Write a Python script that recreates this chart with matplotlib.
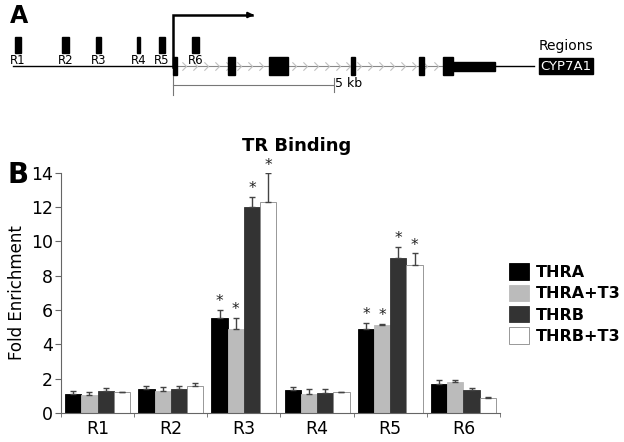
import numpy as np
import matplotlib.pyplot as plt
from matplotlib.path import Path
from matplotlib.patches import Rectangle, Patch

# Painel B: dados de enriquecimento
regions = ["R1", "R2", "R3", "R4", "R5", "R6"]
series = ["THRA", "THRA+T3", "THRB", "THRB+T3"]
thra = [1.12, 1.40, 5.56, 1.36, 4.88, 1.69]
thra_t3 = [1.07, 1.30, 4.88, 1.10, 5.14, 1.80]
thrb = [1.26, 1.40, 12.0, 1.16, 9.05, 1.32]
thrb_t3 = [1.20, 1.59, 12.3, 1.22, 8.60, 0.89]
thra_err = [0.14, 0.19, 0.44, 0.14, 0.35, 0.23]
thra_t3_err = [0.13, 0.19, 0.68, 0.31, 0.03, 0.10]
thrb_err = [0.19, 0.15, 0.60, 0.25, 0.64, 0.15]
thrb_t3_err = [0.02, 0.15, 1.66, 0.02, 0.70, 0.04]
signif = [False, False, True, False, True, False]

# Painel A: posições no gene (kb relativos ao TSS)
region_pos = [-4.81, -3.34, -2.31, -1.07, -0.34, 0.70]
region_w = [0.19, 0.22, 0.16, 0.10, 0.19, 0.22]
exon_start = [0.0, 1.71, 2.98, 5.53, 7.64, 8.39]
exon_end = [0.12, 1.93, 3.57, 5.65, 7.80, 8.70]
utr_start, utr_end = 8.70, 10.0
gene_line = (-4.97, 11.2)

colors = ["#000000", "#bbbbbb", "#333333", "#ffffff"]
values = [thra, thra_t3, thrb, thrb_t3]
errors = [thra_err, thra_t3_err, thrb_err, thrb_t3_err]

fig = plt.figure(figsize=(6.24, 4.42), dpi=100)

# ---------------- Painel A ----------------
axA = fig.add_axes([0, 1 - 120 / 442, 1, 120 / 442])
px = 32.2  # pixels por kb
axA.set_xlim(-173 / px, (624 - 173) / px)
axA.set_ylim(120, 0)
axA.axis("off")

yl = 66
axA.plot([gene_line[0], 0], [yl, yl], color="black", lw=1.0)
axA.plot([0, exon_start[-1]], [yl, yl], color="#888888", lw=0.8)
axA.plot([utr_end, gene_line[1]], [yl, yl], color="black", lw=1.0)

chev = Path([(-0.5, 1), (0.5, 0), (-0.5, -1)], [Path.MOVETO, Path.LINETO, Path.LINETO])
xs = np.arange(0.35, exon_start[-1], 0.34)
axA.plot(xs, [yl] * len(xs), linestyle="none", marker=chev, markersize=6,
         markerfacecolor="none", markeredgecolor="#c0c0c0", markeredgewidth=0.8)

for s, e in zip(exon_start, exon_end):
    axA.add_patch(Rectangle((s, 57), e - s, 18, color="black", zorder=3))
axA.add_patch(Rectangle((utr_start, 62), utr_end - utr_start, 9, color="black", zorder=3))

for name, pos, w in zip(regions, region_pos, region_w):
    axA.add_patch(Rectangle((pos - w / 2, 37), w, 16, color="black"))
    axA.text(pos, 61, name, ha="center", va="center", fontsize=8.5)

# seta do promotor
axA.plot([0, 0, 2.45], [67, 15, 15], color="black", lw=1.8, solid_joinstyle="miter")
axA.annotate("", xy=(2.6, 15), xytext=(2.3, 15),
             arrowprops=dict(arrowstyle="-|>", color="black", lw=1.5, mutation_scale=8))

# barra de escala
axA.plot([0, 5], [85, 85], color="#777777", lw=0.8)
axA.plot([0, 0], [76, 95], color="#777777", lw=0.8)
axA.plot([5, 5], [78, 92], color="#777777", lw=0.8)
axA.text(5.03, 84, "5 kb", fontsize=9, va="center", ha="left")

axA.text(11.35, 46, "Regions", fontsize=10, va="center", ha="left")
axA.text(11.42, 66, "CYP7A1", fontsize=9.5, va="center", ha="left", color="white",
         bbox=dict(boxstyle="square,pad=0.12", facecolor="black", edgecolor="black"))
axA.text(10 / 624, 1 - 16 / 120, "A", transform=axA.transAxes, fontsize=17,
         fontweight="bold", va="center", ha="left")

# ---------------- Painel B ----------------
ax = fig.add_axes([61 / 624, 29 / 442, 439 / 624, 240.3 / 442])
x = np.arange(len(regions))
w = 0.222
for i, (vals, errs, c) in enumerate(zip(values, errors, colors)):
    pos = x + (i - 1.5) * w
    ec = "#888888" if c == "#ffffff" else c
    ax.bar(pos, vals, w, color=c, edgecolor=ec, linewidth=0.6, zorder=2)
    ax.errorbar(pos, vals, yerr=[np.zeros(len(errs)), errs], fmt="none",
                ecolor="#444444", elinewidth=1.0, capsize=2.5, capthick=1.0, zorder=3)
    for j, s in enumerate(signif):
        if s:
            ax.text(pos[j], vals[j] + errs[j] + 0.05, "*", ha="center", va="bottom",
                    fontsize=11, color="#222222")

ax.set_xlim(-0.5, 5.5)
ax.set_ylim(0, 14)
ax.set_yticks(range(0, 15, 2))
ax.set_xticks(x)
ax.set_xticklabels(regions)
ax.set_xticks(np.arange(-0.5, 6, 1), minor=True)
ax.tick_params(axis="x", which="major", length=0, labelsize=12.5, pad=5)
ax.tick_params(axis="x", which="minor", length=3, color="#666666")
ax.tick_params(axis="y", length=4, labelsize=12.5, color="#666666", pad=2)
for sp in ["top", "right"]:
    ax.spines[sp].set_visible(False)
ax.spines["left"].set_color("#666666")
ax.spines["bottom"].set_color("#666666")
ax.set_ylabel("Fold Enrichment", fontsize=12, labelpad=3)

fig.text(297 / 624, 1 - 146 / 442, "TR Binding", fontsize=13, fontweight="bold",
         ha="center", va="center")
fig.text(8 / 624, 1 - 175 / 442, "B", fontsize=20, fontweight="bold", ha="left", va="center")

handles = [Patch(facecolor=c, edgecolor=("#888888" if c == "#ffffff" else c), linewidth=0.6)
           for c in colors]
fig.legend(handles, series, loc="upper left", bbox_to_anchor=(503 / 624, 1 - 257 / 442),
           frameon=False, prop={"weight": "bold", "size": 11.5},
           handlelength=1.2, handleheight=1.2, handletextpad=0.45, labelspacing=0.3,
           borderaxespad=0)

fig.savefig("out.png", dpi=100)
